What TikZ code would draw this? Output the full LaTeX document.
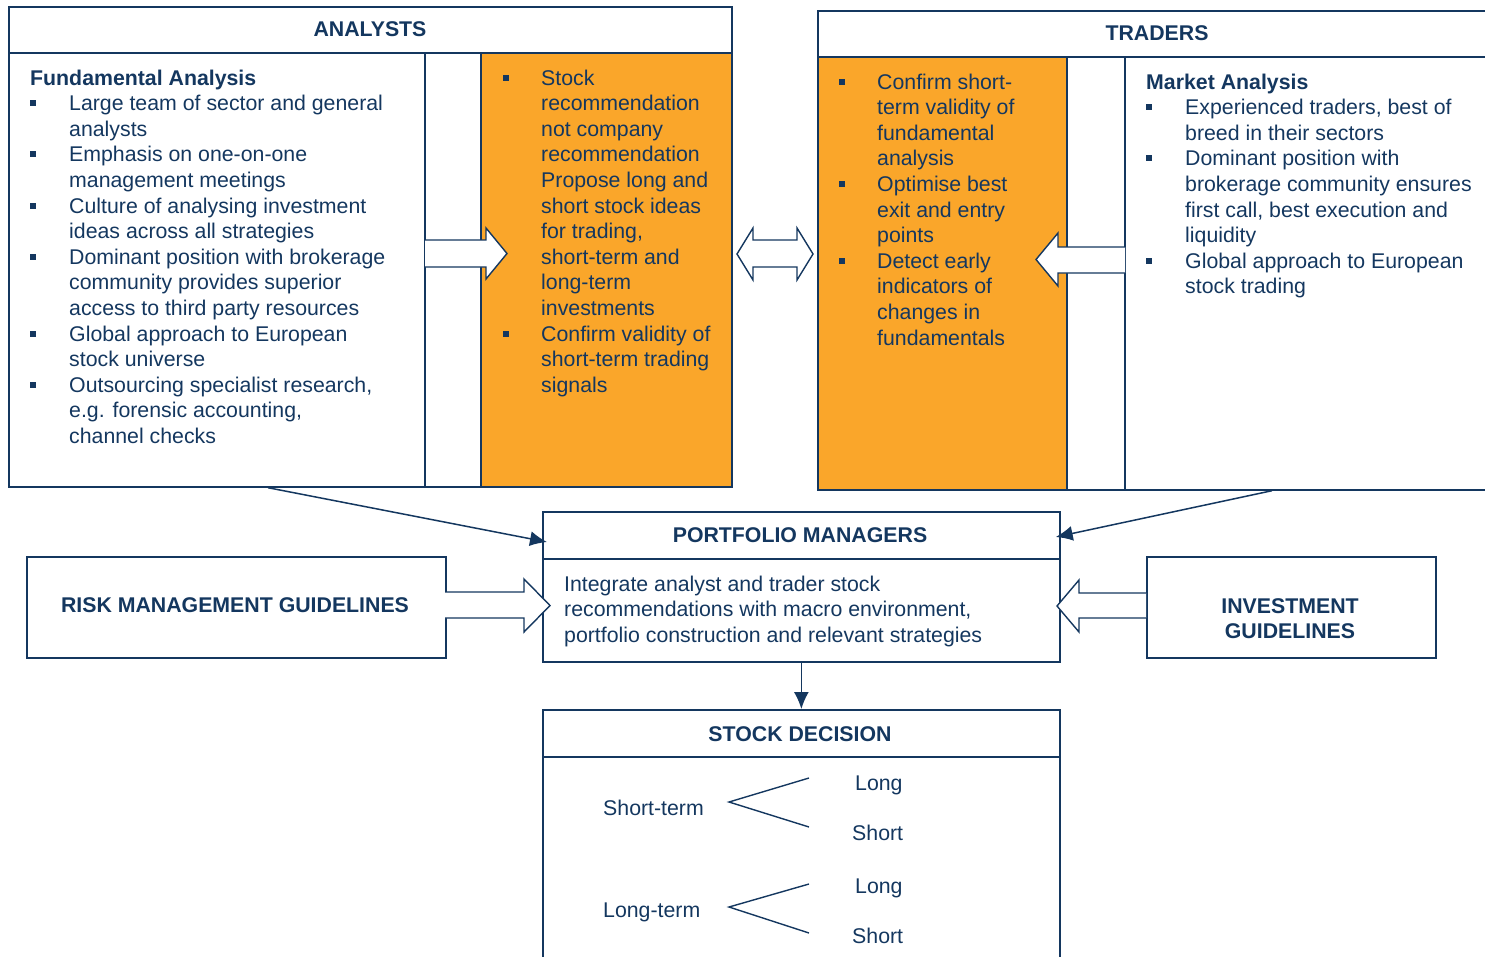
\documentclass[tikz,border=0pt]{standalone}
\usepackage{fontspec}
\setmainfont{Liberation Sans}
\usetikzlibrary{arrows.meta}
\definecolor{navy}{RGB}{20,55,95}
\definecolor{amber}{RGB}{250,166,42}
\newcommand{\sq}{\rule[4.5pt]{6pt}{6pt}}

\begin{document}
\begin{tikzpicture}[x=1pt, y=-1pt,
    panel/.style={draw=navy, line width=1.7pt, anchor=north west, inner sep=0pt},
    rule/.style={draw=navy, line width=1.7pt},
    title/.style={font=\bfseries, text=navy},
    body/.style={text=navy, anchor=base west, inner sep=0pt},
    fat/.style={draw=navy, fill=white, line width=1.4pt, line join=miter},
    arrow/.style={-{Latex[length=17pt, width=15pt]}, draw=navy, line width=1.5pt},
    fork/.style={draw=navy, line width=1.4pt}
]
\fontsize{21.3}{25.6}\selectfont
\useasboundingbox (0,0) rectangle (1485,956);
\clip (0,0) rectangle (1485,956);

% analysts
\fill[amber] (481,53) rectangle (731,486);
\node[panel, minimum width=723pt, minimum height=480pt] (ana) at (8,6) {};
\draw[rule] (8,53) -- (731,53);
\draw[rule] (425,53) -- (425,486);
\draw[rule] (481,53) -- (481,486);
\node[title] (anatitle) at (370,29) {ANALYSTS};

\node[body] (fund) at (30,85) {\begin{tabular}[t]{@{}p{39pt}@{}l@{}}
\multicolumn{2}{@{}l@{}}{\bfseries Fundamental Analysis}\\
\sq & Large team of sector and general\\
    & analysts\\
\sq & Emphasis on one-on-one\\
    & management meetings\\
\sq & Culture of analysing investment\\
    & ideas across all strategies\\
\sq & Dominant position with brokerage\\
    & community provides superior\\
    & access to third party resources\\
\sq & Global approach to European\\
    & stock universe\\
\sq & Outsourcing specialist research,\\
    & e.g. forensic accounting,\\
    & channel checks
\end{tabular}};

\node[body] (anaidea) at (503,85) {\begin{tabular}[t]{@{}p{38pt}@{}l@{}}
\sq & Stock\\
    & recommendation\\
    & not company\\
    & recommendation\\
    & Propose long and\\
    & short stock ideas\\
    & for trading,\\
    & short-term and\\
    & long-term\\
    & investments\\
\sq & Confirm validity of\\
    & short-term trading\\
    & signals
\end{tabular}};

% traders
\fill[amber] (817,57) rectangle (1067,489);
\node[panel, minimum width=680pt, minimum height=479pt] (trd) at (817,10) {};
\draw[rule] (817,57) -- (1497,57);
\draw[rule] (1067,57) -- (1067,489);
\draw[rule] (1125,57) -- (1125,489);
\node[title] (trdtitle) at (1157,33) {TRADERS};

\node[body] (trdidea) at (839,89) {\begin{tabular}[t]{@{}p{38pt}@{}l@{}}
\sq & Confirm short-\\
    & term validity of\\
    & fundamental\\
    & analysis\\
\sq & Optimise best\\
    & exit and entry\\
    & points\\
\sq & Detect early\\
    & indicators of\\
    & changes in\\
    & fundamentals
\end{tabular}};

\node[body] (market) at (1146,89) {\begin{tabular}[t]{@{}p{39pt}@{}l@{}}
\multicolumn{2}{@{}l@{}}{\bfseries Market Analysis}\\
\sq & Experienced traders, best of\\
    & breed in their sectors\\
\sq & Dominant position with\\
    & brokerage community ensures\\
    & first call, best execution and\\
    & liquidity\\
\sq & Global approach to European\\
    & stock trading
\end{tabular}};

% fat arrows
\draw[fat] (425,240) -- (486,240) -- (486,228) -- (507,253.5) -- (486,279) -- (486,267) -- (425,267);
\draw[fat] (753,240) -- (797,240) -- (797,228) -- (813,254) -- (797,280) -- (797,267)
    -- (753,267) -- (753,280) -- (737,254) -- (753,228) -- cycle;
\draw[fat] (1125,247) -- (1058,247) -- (1058,233) -- (1036,259.5) -- (1058,286) -- (1058,273) -- (1125,273);

% portfolio managers
\node[panel, minimum width=517pt, minimum height=150pt] (pm) at (542,511) {};
\draw[rule] (542,559) -- (1059,559);
\node[title] (pmtitle) at (800,535.5) {PORTFOLIO MANAGERS};
\node[body] (pmtext) at (564,591) {\begin{tabular}[t]{@{}l@{}}
Integrate analyst and trader stock\\
recommendations with macro environment,\\
portfolio construction and relevant strategies
\end{tabular}};

\node[panel, minimum width=419pt, minimum height=101pt] (risk) at (26,556) {};
\node[title] (risktitle) at (235,605.5) {RISK MANAGEMENT GUIDELINES};
\node[panel, minimum width=289pt, minimum height=101pt] (inv) at (1146,556) {};
\node[title, anchor=base] (invtitle) at (1290,613) {\begin{tabular}[t]{@{}c@{}}
INVESTMENT\\GUIDELINES\end{tabular}};

\draw[fat] (445,592) -- (524,592) -- (524,579) -- (550,605.5) -- (524,632) -- (524,618) -- (445,618);
\draw[fat] (1146,593) -- (1079,593) -- (1079,580) -- (1057,606) -- (1079,632) -- (1079,618) -- (1146,618);

\draw[arrow] ([xshift=260pt]ana.south west) -- ([xshift=5pt, yshift=-31pt]pm.north west);
\draw[arrow] ([xshift=455pt]trd.south west) -- ([xshift=-5pt, yshift=-26pt]pm.north east);

% stock decision
\node[panel, minimum width=517pt, minimum height=300pt] (sd) at (542,709) {};
\draw[rule] (542,757) -- (1059,757);
\node[title] (sdtitle) at (800,734) {STOCK DECISION};
\draw[arrow] (pm.south) -- (sd.north);

\node[body] (short) at (603,815) {Short-term};
\node[body] (shortlong) at (855,790) {Long};
\node[body] (shortshort) at (852,840) {Short};
\node[body] (long) at (603,917) {Long-term};
\node[body] (longlong) at (855,893) {Long};
\node[body] (longshort) at (852,943) {Short};

\coordinate (shortfork) at (729,802);
\coordinate (shortup) at (809,778);
\coordinate (shortdown) at (809,827);
\coordinate (longfork) at (729,907);
\coordinate (longup) at (809,884);
\coordinate (longdown) at (809,933);
\draw[fork] (shortup) -- (shortfork) -- (shortdown);
\draw[fork] (longup) -- (longfork) -- (longdown);

\end{tikzpicture}
\end{document}
